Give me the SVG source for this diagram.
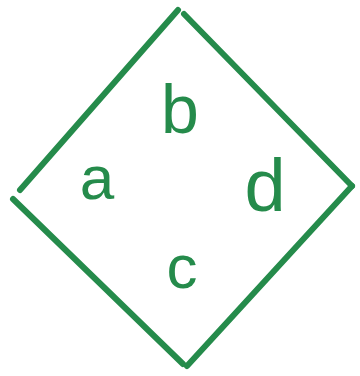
<svg xmlns="http://www.w3.org/2000/svg" width="360" height="376" viewBox="0 0 360 376">
<style>
.ln{stroke:#258b4b;stroke-width:6;stroke-linecap:round;fill:none}
.lb{fill:#258b4b;font-family:"Liberation Sans",Arial,sans-serif;text-anchor:middle}
</style>
<rect width="360" height="376" fill="#ffffff"/>
<g id="edges">
<line class="ln" x1="20" y1="190" x2="178" y2="10"/>
<line class="ln" x1="184" y1="14" x2="352" y2="186"/>
<line class="ln" x1="352" y1="186" x2="187" y2="366"/>
<line class="ln" x1="13" y1="199" x2="183" y2="364"/>
</g>
<g id="label-a"><text class="lb" x="97" y="199" font-size="62">a</text></g>
<g id="label-b"><text class="lb" x="180" y="133" font-size="68">b</text></g>
<g id="label-c"><text class="lb" x="182" y="288" font-size="62">c</text></g>
<g id="label-d"><text class="lb" x="265" y="211" font-size="74">d</text></g>
</svg>
